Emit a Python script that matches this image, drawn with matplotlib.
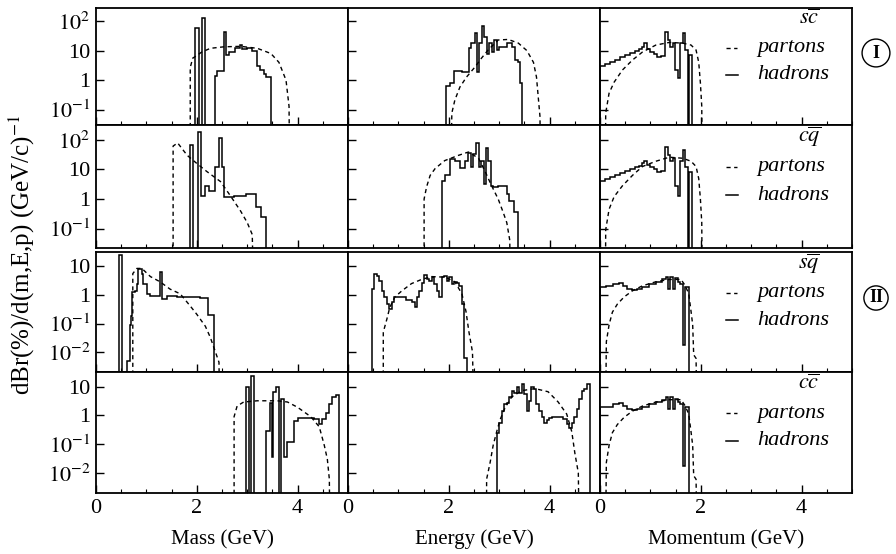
import numpy as np
import matplotlib.pyplot as plt
from matplotlib.ticker import FixedLocator, MultipleLocator, LogLocator, NullFormatter

plt.rcParams['font.family'] = ['Liberation Serif', 'DejaVu Serif']
plt.rcParams['mathtext.fontset'] = 'stix'

# ---- data ----
# row 1: s cbar
mass_sc_edges = [1.97, 2.04, 2.11, 2.17, 2.37, 2.41, 2.53, 2.57, 2.63, 2.75, 2.85, 2.90, 3.00, 3.10, 3.20, 3.25, 3.33, 3.38, 3.48]
mass_sc_had = [58, 0, 126, 0, 1.4, 2, 42, 7, 9, 12, 16, 11, 12, 10, 3, 2.2, 1.6, 1.25]
mass_sc_px = [1.87, 1.87, 1.92, 1.95, 2.10, 2.27, 2.54, 2.87, 3.20, 3.47, 3.63, 3.77, 3.83, 3.86]
mass_sc_py = [0, 2.7, 5.6, 6, 9, 12, 13.5, 14, 12, 8, 4, 1, 0.13, 0]

en_sc_edges = [1.94, 2.02, 2.11, 2.14, 2.26, 2.40, 2.45, 2.51, 2.55, 2.60, 2.65, 2.70, 2.75, 2.80, 2.85, 2.90, 2.95, 3.00, 3.15, 3.25, 3.31, 3.37, 3.41, 3.45]
en_sc_had = [0.63, 0.78, 2.0, 2.1, 1.9, 12, 18, 39, 1.9, 18, 68, 29, 8, 18, 9, 23, 10.5, 13, 18, 13, 4.8, 4, 0.8]
en_sc_px = [2.02, 2.06, 2.12, 2.22, 2.35, 2.52, 2.65, 2.78, 2.98, 3.18, 3.38, 3.55, 3.68, 3.74, 3.78, 3.81, 3.82]
en_sc_py = [0, 0.076, 0.21, 0.58, 1.26, 2.8, 5.6, 10.5, 23, 24, 18, 10, 4, 1.26, 0.21, 0.056, 0]

mom_sc_edges = [0, 0.1, 0.2, 0.3, 0.4, 0.5, 0.6, 0.7, 0.78, 0.83, 0.88, 0.94, 1.0, 1.07, 1.14, 1.21, 1.28, 1.34, 1.39, 1.44, 1.49, 1.54, 1.59, 1.64, 1.69, 1.75, 1.77, 1.83]
mom_sc_had = [3.0, 3.5, 4.2, 5.0, 6.2, 7.3, 8.5, 9.8, 11, 13, 18, 11, 9, 7.5, 6.2, 6.8, 42, 23, 13, 18, 2.2, 1.2, 18, 39, 10.5, 0, 7]
mom_sc_px = [0.10, 0.113, 0.18, 0.28, 0.445, 0.644, 0.843, 1.109, 1.375, 1.64, 1.806, 1.906, 1.959, 1.992, 2.019, 2.04]
mom_sc_py = [0, 0.076, 0.36, 0.85, 2.2, 4.8, 9, 15.5, 19, 18, 15.5, 10.5, 4, 0.8, 0.13, 0]

# row 2: c qbar
mass_cq_edges = [1.87, 1.925, 2.02, 2.08, 2.17, 2.25, 2.37, 2.44, 2.50, 2.54, 2.74, 2.97, 3.18, 3.27, 3.38]
mass_cq_had = [70, 0, 180, 1.26, 2.8, 1.9, 12.6, 117, 12, 1.2, 1.25, 1.5, 0.52, 0.24]
mass_cq_px = [1.53, 1.53, 1.62, 1.81, 2.0, 2.2, 2.47, 2.67, 2.87, 3.0, 3.1, 3.17]
mass_cq_py = [0, 62, 79, 30, 16, 8.5, 3.9, 1.26, 0.39, 0.16, 0.063, 0]

en_cq_edges = [1.86, 1.93, 2.02, 2.12, 2.22, 2.32, 2.39, 2.44, 2.49, 2.53, 2.59, 2.63, 2.69, 2.73, 2.78, 2.84, 2.88, 2.98, 3.15, 3.19, 3.30, 3.37]
en_cq_had = [4.2, 6.3, 22, 19, 11, 19, 35, 12, 33, 79, 12.6, 19, 3.3, 53, 19, 2.8, 2.6, 2.7, 1.5, 0.85, 0.35]
en_cq_px = [1.51, 1.51, 1.56, 1.63, 1.73, 1.92, 2.19, 2.39, 2.59, 2.72, 2.85, 2.98, 3.08, 3.15, 3.21, 3.23]
en_cq_py = [0, 1, 2.6, 6.3, 10.8, 20, 30, 39, 24, 8.6, 2.8, 1, 0.35, 0.16, 0.04, 0]

mom_cq_edges = mom_sc_edges
mom_cq_had = [4.0, 4.7, 5.6, 6.5, 7.8, 9, 10.5, 12, 13.5, 16, 20, 14, 12, 10, 8.5, 9, 57, 30, 19, 24, 2.8, 1.26, 20, 45, 12.6, 0, 8.5]
mom_cq_px = [0.10, 0.113, 0.18, 0.28, 0.445, 0.644, 0.843, 1.109, 1.375, 1.64, 1.806, 1.906, 1.959, 1.992, 2.019, 2.04]
mom_cq_py = [0, 0.09, 0.45, 1.2, 2.8, 6.3, 12.6, 19, 26, 24, 19, 12.6, 4.9, 1, 0.16, 0]

# row 3: s qbar
mass_sq_edges = [0.465, 0.52, 0.61, 0.67, 0.69, 0.72, 0.78, 0.81, 0.84, 0.91, 0.94, 1.01, 1.08, 1.26, 1.31, 1.41, 1.61, 2.07, 2.22, 2.34]
mass_sq_had = [24.5, 0, 0.005, 0.09, 0.18, 1.26, 1.4, 2.5, 7.9, 5.6, 2.5, 1.1, 0.92, 6.6, 0.72, 0.92, 0.88, 0.8, 0.2]
mass_sq_px = [0.73, 0.73, 0.81, 0.91, 1.08, 1.27, 1.47, 1.67, 1.87, 2.0, 2.17, 2.27, 2.37, 2.44, 2.47]
mass_sq_py = [0, 5.6, 8.5, 8.5, 4.4, 2.9, 1.6, 1.1, 0.41, 0.21, 0.08, 0.032, 0.01, 0.0044, 0]

en_sq_edges = [0.47, 0.52, 0.57, 0.62, 0.67, 0.71, 0.77, 0.82, 0.87, 0.92, 0.97, 1.16, 1.26, 1.32, 1.36, 1.41, 1.46, 1.51, 1.56, 1.61,
               1.66, 1.71, 1.76, 1.81, 1.86, 1.91, 1.96, 2.00, 2.06, 2.11, 2.16, 2.20, 2.26, 2.30, 2.36]
en_sq_had = [1.6, 5.6, 4.8, 3.2, 1.4, 0.85, 0.48, 0.32, 0.56, 0.85, 0.88, 0.66, 0.56, 0.37, 0.85, 1.4, 2.7, 5, 3.6, 3.2,
             4.4, 2.5, 1.4, 0.88, 4.4, 4.6, 3.2, 4.2, 2.5, 2.8, 2.6, 2.1, 0.48, 0.006]
en_sq_px = [0.70, 0.70, 0.77, 0.83, 0.93, 1.07, 1.26, 1.46, 1.66, 1.93, 2.12, 2.26, 2.34, 2.40, 2.47, 2.52]
en_sq_py = [0, 0.05, 0.14, 0.37, 0.85, 1.4, 2.5, 3.5, 4.4, 4.2, 2.9, 1.1, 0.27, 0.05, 0.01, 0]

mom_sq_edges = [0, 0.11, 0.25, 0.38, 0.45, 0.54, 0.64, 0.74, 0.84, 0.98, 1.11, 1.24, 1.31, 1.34, 1.39, 1.44, 1.49, 1.54, 1.59, 1.64, 1.69, 1.77]
mom_sq_had = [1.9, 2.0, 2.5, 2.6, 2.1, 1.6, 1.5, 1.6, 1.9, 2.5, 2.9, 3.5, 4.4, 1.6, 4.4, 1.6, 3.8, 2.9, 2.5, 0.018, 1.9]
mom_sq_px = [0.10, 0.126, 0.18, 0.246, 0.345, 0.478, 0.644, 0.843, 1.109, 1.375, 1.607, 1.693, 1.76, 1.806, 1.839, 1.859, 1.906, 1.939]
mom_sq_py = [0, 0.023, 0.09, 0.25, 0.48, 0.85, 1.4, 2.1, 2.9, 3.5, 3.5, 2.1, 1.1, 0.27, 0.09, 0.008, 0.006, 0]

# row 4: c cbar
mass_cc_edges = [2.98, 3.03, 3.07, 3.13, 3.38, 3.45, 3.50, 3.52, 3.57, 3.63, 3.67, 3.73, 3.79, 3.86, 3.93, 4.00, 4.33, 4.43, 4.49, 4.56, 4.63, 4.69, 4.76, 4.83]
mass_cc_had = [10, 0, 23, 0, 0.29, 2.7, 0.035, 6.6, 10, 0, 3.7, 0.035, 0.12, 0.12, 0.66, 0.78, 0.75, 0.48, 0.75, 1.25, 2.5, 4.4, 5.2]
mass_cc_px = [2.74, 2.74, 2.8, 2.93, 3.2, 3.6, 3.8, 4.0, 4.26, 4.43, 4.53, 4.59, 4.63, 4.65]
mass_cc_py = [0, 0.9, 2.1, 2.9, 3.2, 3.2, 2.9, 1.9, 0.9, 0.4, 0.09, 0.03, 0.006, 0]

en_cc_edges = [2.95, 3.00, 3.05, 3.10, 3.15, 3.19, 3.25, 3.29, 3.35, 3.39, 3.45, 3.49, 3.55, 3.59, 3.64, 3.69, 3.74, 3.79, 3.84, 3.89,
               3.94, 3.99, 4.04, 4.17, 4.27, 4.34, 4.39, 4.44, 4.48, 4.54, 4.58, 4.64, 4.69, 4.75, 4.80]
en_cc_had = [0.25, 0.56, 1.4, 2.5, 2.7, 4.4, 7.2, 6.2, 10, 6.2, 12.6, 5.4, 1.4, 3.2, 10, 8.5, 2.5, 1.4, 0.85, 0.56,
             0.7, 0.8, 0.9, 0.88, 0.75, 0.48, 0.37, 0.56, 0.85, 1.6, 3.7, 7.2, 8.5, 12]
en_cc_px = [2.75, 2.75, 2.82, 2.88, 2.95, 3.02, 3.12, 3.25, 3.45, 3.71, 3.97, 4.17, 4.34, 4.44, 4.50, 4.57, 4.60]
en_cc_py = [0, 0.006, 0.023, 0.09, 0.27, 0.72, 1.9, 4.4, 7.2, 8.5, 6.6, 2.9, 1.1, 0.27, 0.05, 0.01, 0]

# momentum for c cbar looks the same as s qbar
mom_cc_edges = mom_sq_edges
mom_cc_had = mom_sq_had
mom_cc_px = mom_sq_px
mom_cc_py = mom_sq_py

quarks = [r'$s\overline{c}$', r'$c\overline{q}$', r'$s\overline{q}$', r'$c\overline{c}$']
xlabels = ['Mass (GeV)', 'Energy (GeV)', 'Momentum (GeV)']

panels = [
    [(mass_sc_edges, mass_sc_had, mass_sc_px, mass_sc_py), (en_sc_edges, en_sc_had, en_sc_px, en_sc_py), (mom_sc_edges, mom_sc_had, mom_sc_px, mom_sc_py)],
    [(mass_cq_edges, mass_cq_had, mass_cq_px, mass_cq_py), (en_cq_edges, en_cq_had, en_cq_px, en_cq_py), (mom_cq_edges, mom_cq_had, mom_cq_px, mom_cq_py)],
    [(mass_sq_edges, mass_sq_had, mass_sq_px, mass_sq_py), (en_sq_edges, en_sq_had, en_sq_px, en_sq_py), (mom_sq_edges, mom_sq_had, mom_sq_px, mom_sq_py)],
    [(mass_cc_edges, mass_cc_had, mass_cc_px, mass_cc_py), (en_cc_edges, en_cc_had, en_cc_px, en_cc_py), (mom_cc_edges, mom_cc_had, mom_cc_px, mom_cc_py)],
]

# ---- layout (pixels of the 896x554 picture) ----
W, H = 896, 554
col_left = [96, 348, 600]
col_w = 252
rows = [(8, 125), (125, 248), (252, 372), (372, 493)]
ylims = [(0.03, 280), (0.022, 320), (0.002, 32), (0.002, 32)]
ytick_top = [([100, 10, 1, 0.1], [r'$10^{2}$', '10', '1', r'$10^{-1}$']),
             ([10, 1, 0.1, 0.01], ['10', '1', r'$10^{-1}$', r'$10^{-2}$'])]

fig = plt.figure(figsize=(W / 100, H / 100), dpi=100)
floor = 1e-6

for r, (top, bot) in enumerate(rows):
    for c in range(3):
        ax = fig.add_axes([col_left[c] / W, 1 - bot / H, col_w / W, (bot - top) / H])
        edges, had, px, py = panels[r][c]
        had = np.array(had, dtype=float)
        ax.stairs(np.where(had > 0, had, floor), edges, baseline=floor, color='black', lw=1.1)
        py = np.array(py, dtype=float)
        ax.plot(px, np.where(py > 0, py, floor), color='black', lw=1.0, linestyle=(0, (3, 2.5)))
        ax.set_yscale('log')
        ax.set_xlim(0, 5)
        ax.set_ylim(*ylims[r])
        ax.xaxis.set_major_locator(FixedLocator([0, 2, 4]))
        ax.xaxis.set_minor_locator(MultipleLocator(0.5))
        ticks, labels = ytick_top[0] if r < 2 else ytick_top[1]
        ax.yaxis.set_major_locator(FixedLocator(ticks))
        ax.yaxis.set_minor_locator(LogLocator(base=10, subs=np.arange(2, 10)))
        ax.yaxis.set_minor_formatter(NullFormatter())
        if c == 0:
            ax.set_yticklabels(labels)
        else:
            ax.set_yticklabels([])
        if r == 3:
            ax.set_xticklabels(['0', '2', '4'])
        else:
            ax.set_xticklabels([])
        ax.tick_params(which='major', direction='in', length=6, width=1, labelsize=16, pad=4,
                       top=False, right=False)
        ax.tick_params(which='minor', direction='in', length=3, width=0.8, top=False, right=False)
        for s in ax.spines.values():
            s.set_linewidth(1.3)

        if c == 2:
            ax.text(0.83, 0.90, quarks[r], transform=ax.transAxes, fontsize=16, ha='center', va='center')
            ax.plot([0.50, 0.545], [0.66, 0.66], transform=ax.transAxes, color='black', lw=1.0,
                    linestyle=(0, (3, 2.5)))
            ax.text(0.623, 0.66, 'partons', transform=ax.transAxes, fontsize=16, style='italic', va='center')
            ax.plot([0.50, 0.548], [0.43, 0.43], transform=ax.transAxes, color='black', lw=1.1)
            ax.text(0.623, 0.43, 'hadrons', transform=ax.transAxes, fontsize=16, style='italic', va='center')

for c in range(3):
    fig.text((col_left[c] + col_w / 2) / W, 1 - 544 / H, xlabels[c], fontsize=15,
             ha='center', va='baseline')

fig.text(22 / W, 1 - 255 / H, r'dBr(%)/d(m,E,p) (GeV/c)$^{-1}$', rotation=90, fontsize=18,
         ha='center', va='center')
fig.text(876 / W, 1 - 53 / H, 'I', fontsize=13, fontweight='bold', ha='center', va='center',
         bbox=dict(boxstyle='circle,pad=0.3', fc='white', ec='black', lw=1.0))
fig.text(876 / W, 1 - 298 / H, 'II', fontsize=13, fontweight='bold', ha='center', va='center',
         bbox=dict(boxstyle='circle,pad=0.2', fc='white', ec='black', lw=1.0))

fig.savefig('out.png', dpi=100)
